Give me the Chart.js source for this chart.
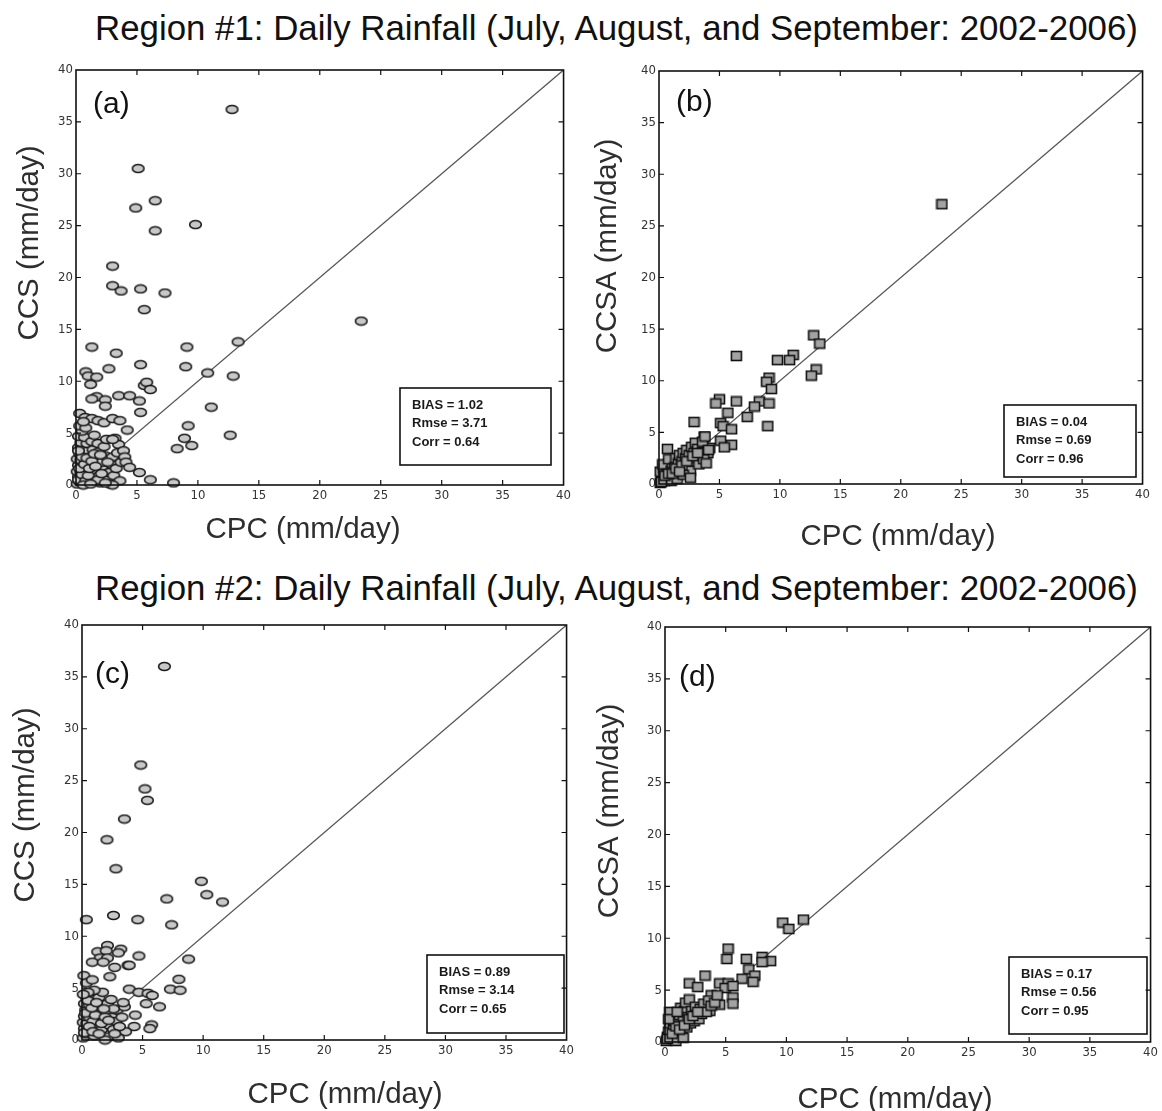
<!DOCTYPE html>
<html><head><meta charset="utf-8">
<script src="https://cdn.jsdelivr.net/npm/chart.js@4.4.0/dist/chart.umd.min.js"></script>
<style>
body{margin:0;background:#fff;width:1162px;height:1111px;position:relative;overflow:hidden;}
.title{position:absolute;white-space:nowrap;font-family:"Liberation Sans",Arial,sans-serif;color:#111;line-height:1.2;}
canvas{position:absolute;}
</style></head><body>
<div id="t0" class="title"></div>
<div id="t1" class="title"></div>
<script>
// ---------------- DATA ----------------
const regionTitles = [
  "Region #1: Daily Rainfall (July, August, and September: 2002-2006)",
  "Region #2: Daily Rainfall (July, August, and September: 2002-2006)"
];
const tickValues = [0, 5, 10, 15, 20, 25, 30, 35, 40];
const panelLabels = ["(a)", "(b)", "(c)", "(d)"];
const xAxisTitle = "CPC (mm/day)";
const yAxisTitles = ["CCS (mm/day)", "CCSA (mm/day)", "CCS (mm/day)", "CCSA (mm/day)"];
const statsA = ["BIAS = 1.02", "Rmse = 3.71", "Corr = 0.64"];
const statsB = ["BIAS = 0.04", "Rmse = 0.69", "Corr = 0.96"];
const statsC = ["BIAS = 0.89", "Rmse = 3.14", "Corr = 0.65"];
const statsD = ["BIAS = 0.17", "Rmse = 0.56", "Corr = 0.95"];
const diagX = [0, 40];
const diagY = [0, 40];

// (a) Region 1: CPC vs CCS
const cpcA = [12.8,5.1,6.5,4.9,9.8,6.5,3.0,3.0,5.3,3.7,7.3,5.6,23.4,13.3,9.1,1.3,3.3,5.3,9.0,2.7,10.8,0.8,1.0,1.7,12.9,1.2,5.6,5.8,6.1,3.5,4.4,1.7,1.3,2.4,2.4,5.2,11.1,5.3,0.3,0.75,1.3,1.8,2.3,3.0,3.6,9.2,12.65,4.2,8.9,8.3,9.5,3.2,3.5,5.2,6.1,8.0,
  0.1,0.3,0.2,0.5,0.1,0.4,0.7,0.2,0.6,0.9,0.1,0.4,0.8,0.3,0.7,0.2,0.6,1.0,0.4,0.9,0.2,0.7,0.5,0.3,0.8,0.6,1.1,1.3,1.0,1.2,1.5,1.4,1.6,1.2,1.7,1.4,1.9,1.3,1.8,1.5,2.0,1.9,2.2,2.1,2.4,2.3,2.6,2.7,2.9,2.8,3.1,3.0,3.3,3.4,3.6,3.7,3.9,4.0,4.1,4.4,3.0,2.5,3.0,
  0.2,0.5,0.8,1.0,0.3,0.7,1.1,0.5,0.9,1.3,0.2,1.6,1.8,2.1,2.4,1.5,2.0,0.6,1.2,2.6];
const ccsA = [36.2,30.5,27.4,26.7,25.1,24.5,21.1,19.2,18.9,18.7,18.5,16.9,15.8,13.8,13.3,13.3,12.7,11.6,11.4,11.2,10.8,10.9,10.5,10.4,10.5,9.7,9.6,9.9,9.2,8.6,8.6,8.5,8.3,8.2,7.6,8.1,7.5,7.0,6.9,6.5,6.4,6.2,6.0,6.4,6.2,5.7,4.8,5.3,4.5,3.5,3.8,4.5,3.9,1.2,0.5,0.2,
  0.1,0.3,0.8,0.6,1.3,1.2,1.0,1.9,1.7,1.5,2.5,2.4,2.2,3.0,2.9,3.6,3.5,3.3,4.1,4.0,4.7,4.6,5.2,5.7,5.5,6.1,0.3,0.8,1.9,1.3,0.5,2.0,1.2,2.7,2.5,3.4,3.2,4.2,4.0,4.8,0.2,0.9,1.5,2.2,2.8,3.7,0.6,1.2,2.0,0.1,0.9,2.7,1.6,3.1,0.4,2.2,3.3,2.7,2.2,1.7,0.0,4.4,4.4,
  0.5,1.0,0.4,0.9,1.6,2.0,1.6,2.7,2.6,2.3,3.3,1.8,0.5,1.1,0.2,3.0,2.9,0.0,0.1,2.2];

// (b) Region 1: CPC vs CCSA
const cpcB = [23.4,12.8,13.3,6.4,11.1,10.8,9.8,13.0,12.6,9.1,8.9,9.3,5.0,4.7,6.4,8.3,7.9,9.1,5.7,7.3,2.9,5.1,5.3,9.0,6.0,3.75,5.1,6.0,5.4,0.7,4.2,4.05,
  0.1,0.2,0.3,0.1,0.4,0.5,0.6,0.7,0.3,0.9,1.0,1.1,0.8,1.2,1.3,1.4,1.5,1.6,1.7,1.8,1.9,2.0,2.1,2.2,2.3,2.4,2.5,2.6,2.7,2.8,2.9,3.0,3.1,3.2,3.3,3.4,3.6,3.6,3.7,3.8,3.9,4.1,1.0,1.5,2.0,2.6,
  0.2,0.5,0.8,1.1,1.4,1.9,2.3,2.8,3.2,1.7];
const ccsaB = [27.1,14.4,13.6,12.4,12.5,12.0,12.0,11.1,10.5,10.3,9.9,9.2,8.2,7.8,8.0,8.0,7.5,7.8,6.9,6.5,6.0,5.9,5.6,5.6,5.3,4.6,4.2,3.8,3.55,3.4,3.5,3.0,
  0.1,0.5,0.9,1.2,1.5,0.3,1.0,1.8,1.9,0.6,1.3,2.0,2.4,0.8,1.6,2.5,1.1,2.0,2.8,1.4,2.2,3.0,1.7,2.5,3.3,1.9,2.8,1.3,3.6,2.2,3.0,4.0,2.5,3.4,1.9,2.9,4.1,3.1,2.4,4.6,2.0,3.3,0.3,0.5,0.9,0.6,
  0.2,0.8,1.0,1.0,1.5,1.8,2.2,2.7,3.0,1.2];

// (c) Region 2: CPC vs CCS
const cpcC = [6.8,4.85,5.2,5.4,3.5,2.06,2.8,9.85,10.3,7.0,11.6,2.6,0.36,4.6,7.4,2.1,1.3,2.0,3.2,3.0,4.7,1.5,2.1,0.85,1.75,3.8,3.9,2.7,8.8,2.3,0.15,0.36,0.85,8.0,7.3,8.1,3.9,4.7,5.45,5.8,5.3,6.4,4.4,5.75,5.6,4.3,3.6,
  0.1,0.3,0.2,0.5,0.1,0.4,0.2,0.6,0.3,0.7,0.2,0.6,0.4,0.8,1.0,1.1,1.3,0.9,1.2,1.5,1.4,1.7,1.6,1.8,2.0,2.1,2.2,2.3,2.5,2.4,2.6,2.8,2.9,3.0,3.1,3.3,3.5,1.9,2.7,1.0,0.5,3.4,
  0.2,0.6,0.9,0.3,1.1,0.8,1.4,1.6,1.9,0.5,1.2,2.2,2.6,0.1,1.8];
const ccsC = [36.0,26.5,24.2,23.1,21.3,19.3,16.5,15.3,14.0,13.6,13.3,12.0,11.6,11.6,11.1,9.1,8.5,8.6,8.75,8.4,8.1,7.9,7.9,7.5,7.5,7.2,7.2,7.0,7.8,6.1,6.2,5.5,5.8,5.85,4.9,4.8,4.9,4.6,4.5,4.3,3.5,3.2,2.4,1.45,1.1,1.3,0.8,
  0.2,0.6,1.1,0.9,1.7,1.6,2.3,2.2,2.9,2.7,3.5,3.4,4.0,3.9,0.4,1.2,2.0,1.8,2.8,3.2,4.1,4.6,1.0,1.8,2.6,3.5,0.3,1.4,2.2,3.9,1.0,1.8,2.9,0.2,1.3,2.2,3.2,0.0,0.6,4.8,4.6,3.6,
  0.7,1.3,0.8,2.6,2.4,3.1,0.6,1.6,2.2,3.8,3.6,1.9,3.0,4.4,3.0];

// (d) Region 2: CPC vs CCSA
const cpcD = [11.4,9.7,10.2,5.2,5.1,6.7,8.0,8.7,8.0,6.9,7.4,7.25,6.35,3.3,2.0,2.7,4.5,5.2,4.95,5.6,5.6,5.6,3.8,4.5,3.7,
  0.1,0.2,0.3,0.4,0.5,0.4,0.6,0.7,0.8,1.0,1.1,1.2,1.3,1.4,1.5,1.6,1.7,1.8,1.9,2.0,2.1,2.2,2.4,2.5,2.6,2.8,2.9,3.0,3.2,3.4,3.6,3.8,4.1,4.3,0.9,1.5,
  0.2,0.6,0.9,1.2,1.6,2.0,2.3,2.7,0.3,1.0];
const ccsaD = [11.8,11.5,10.9,9.0,8.0,8.0,8.2,7.8,7.7,7.0,6.4,5.8,6.1,6.4,5.65,5.3,5.65,5.65,5.2,5.4,4.3,3.7,4.5,3.6,3.0,
  0.1,0.5,1.0,1.8,2.4,2.9,0.3,1.3,2.0,0.6,1.5,2.6,3.3,1.0,2.0,3.0,3.8,1.4,2.4,4.1,1.8,3.0,2.0,3.4,2.6,2.2,3.2,2.7,3.7,2.9,4.0,3.5,3.8,4.5,0.1,0.4,
  0.3,0.8,1.5,1.2,1.6,2.2,2.5,2.9,2.2,2.9];

// ---------------- LAYOUT ----------------
const panels = [
  {xs: cpcA, ys: ccsA, marker: 'ellipse', stats: statsA, rect: [76, 70, 569, 485],
   xt: [303, 530], yt: [30, 243], lab: [93, 105], box: [400, 388, 551, 465]},
  {xs: cpcB, ys: ccsaB, marker: 'square', stats: statsB, rect: [659, 71, 1148, 484],
   xt: [898, 537], yt: [608, 246], lab: [676, 103], box: [1004, 405, 1136, 477]},
  {xs: cpcC, ys: ccsC, marker: 'ellipse', stats: statsC, rect: [82, 625, 572, 1040],
   xt: [345, 1095], yt: [26, 805], lab: [95, 675], box: [427, 955, 564, 1033]},
  {xs: cpcD, ys: ccsaD, marker: 'square', stats: statsD, rect: [665, 627, 1156, 1042],
   xt: [895, 1100], yt: [610, 811], lab: [679, 678], box: [1009, 957, 1147, 1034]}
];
const titleLayout = [{left: 95, cy: 28, width: 1045}, {left: 95, cy: 588, width: 1045}];

// titles
const mc = document.createElement('canvas').getContext('2d');
mc.font = '100px "Liberation Sans"';
regionTitles.forEach((t, i) => {
  const el = document.getElementById('t' + i);
  el.textContent = t;
  const w = mc.measureText(t).width;
  const fs = 100 * titleLayout[i].width / w;
  el.style.fontSize = fs + 'px';
  el.style.left = titleLayout[i].left + 'px';
  el.style.top = (titleLayout[i].cy - fs * 0.6) + 'px';
});

// marker images
function makeEllipse() {
  const c = document.createElement('canvas'); c.width = 15; c.height = 11;
  const g = c.getContext('2d');
  g.beginPath(); g.ellipse(7.5, 5.5, 5.8, 4.0, 0, 0, Math.PI * 2);
  g.fillStyle = '#c8c8c8'; g.fill();
  g.lineWidth = 1.6; g.strokeStyle = '#1a1a1a'; g.stroke();
  return c;
}
function makeSquare() {
  const c = document.createElement('canvas'); c.width = 13; c.height = 12;
  const g = c.getContext('2d');
  g.fillStyle = '#a3a3a3'; g.fillRect(1.5, 1.5, 10, 9);
  g.lineWidth = 1.6; g.strokeStyle = '#111'; g.strokeRect(1.5, 1.5, 10, 9);
  return c;
}
const markers = {ellipse: makeEllipse(), square: makeSquare()};

const tickFont = {family: "'Liberation Sans Narrow','DejaVu Sans Condensed',sans-serif", size: 13};
const AX_L = 75, AX_B = 70, PAD_T = 12, PAD_R = 5;

panels.forEach((p, idx) => {
  const [L, T, R, B] = p.rect;
  const cv = document.createElement('canvas');
  const cl = L - AX_L, ct = T - PAD_T;
  const cw = (R - L) + AX_L + PAD_R, ch = (B - T) + PAD_T + AX_B;
  cv.width = cw; cv.height = ch;
  cv.style.left = cl + 'px'; cv.style.top = ct + 'px';
  cv.style.width = cw + 'px'; cv.style.height = ch + 'px';
  document.body.appendChild(cv);

  const pts = p.xs.map((x, i) => ({x: x, y: p.ys[i]}));
  const diag = diagX.map((x, i) => ({x: x, y: diagY[i]}));

  const deco = {
    id: 'deco' + idx,
    afterDraw(chart) {
      const ctx = chart.ctx, ca = chart.chartArea;
      const xsS = chart.scales.x, ysS = chart.scales.y;
      ctx.save();
      // stats box
      const [bl, bt, br, bb] = p.box.map((v, k) => v - (k % 2 === 0 ? cl : ct));
      ctx.fillStyle = '#fff';
      ctx.fillRect(bl, bt, br - bl, bb - bt);
      ctx.strokeStyle = '#111'; ctx.lineWidth = 1.6;
      ctx.strokeRect(bl, bt, br - bl, bb - bt);
      ctx.fillStyle = '#1a1a1a';
      ctx.font = 'bold 13px "Liberation Sans", Arial, sans-serif';
      ctx.textAlign = 'left'; ctx.textBaseline = 'middle';
      const lineOff = [17, 35, 54];
      p.stats.forEach((s, k) => ctx.fillText(s, bl + 12, bt + lineOff[k]));
      // frame
      ctx.strokeStyle = '#111'; ctx.lineWidth = 1.6;
      ctx.strokeRect(ca.left, ca.top, ca.right - ca.left, ca.bottom - ca.top);
      // inward ticks on all sides
      ctx.lineWidth = 1.2; ctx.beginPath();
      tickValues.forEach(v => {
        if (v <= tickValues[0] || v >= tickValues[tickValues.length - 1]) return;
        const px = xsS.getPixelForValue(v), py = ysS.getPixelForValue(v);
        ctx.moveTo(px, ca.bottom); ctx.lineTo(px, ca.bottom - 5);
        ctx.moveTo(px, ca.top); ctx.lineTo(px, ca.top + 5);
        ctx.moveTo(ca.left, py); ctx.lineTo(ca.left + 5, py);
        ctx.moveTo(ca.right, py); ctx.lineTo(ca.right - 5, py);
      });
      ctx.stroke();
      // panel label
      ctx.fillStyle = '#111';
      ctx.font = '30px "Liberation Sans", Arial, sans-serif';
      ctx.textAlign = 'left'; ctx.textBaseline = 'middle';
      ctx.fillText(panelLabels[idx], p.lab[0] - cl, p.lab[1] - ct);
      // axis titles
      ctx.fillStyle = '#2e2e2e';
      ctx.font = '29.5px "Liberation Sans", Arial, sans-serif';
      ctx.textAlign = 'center';
      ctx.fillText(xAxisTitle, p.xt[0] - cl, p.xt[1] - ct);
      ctx.translate(p.yt[0] - cl, p.yt[1] - ct);
      ctx.rotate(-Math.PI / 2);
      ctx.fillText(yAxisTitles[idx], 0, 0);
      ctx.restore();
    }
  };

  new Chart(cv.getContext('2d'), {
    type: 'scatter',
    data: {datasets: [
      {data: pts, pointStyle: markers[p.marker], pointRadius: 6, clip: false, order: 0},
      {data: diag, showLine: true, borderColor: '#555', borderWidth: 1.3, pointRadius: 0, order: 1}
    ]},
    options: {
      responsive: false, animation: false, devicePixelRatio: 1,
      layout: {padding: {left: 0, right: PAD_R, top: PAD_T, bottom: 0}},
      plugins: {legend: {display: false}, tooltip: {enabled: false}},
      events: [],
      scales: {
        x: {type: 'linear', min: tickValues[0], max: tickValues[tickValues.length - 1],
            afterFit: s => { s.height = AX_B; },
            afterBuildTicks: s => { s.ticks = tickValues.map(v => ({value: v})); },
            grid: {display: false, drawTicks: false}, border: {display: false},
            ticks: {padding: 3, font: tickFont, color: '#333', maxRotation: 0, autoSkip: false}},
        y: {type: 'linear', min: tickValues[0], max: tickValues[tickValues.length - 1],
            afterFit: s => { s.width = AX_L; },
            afterBuildTicks: s => { s.ticks = tickValues.map(v => ({value: v})); },
            grid: {display: false, drawTicks: false}, border: {display: false},
            ticks: {padding: 3, font: tickFont, color: '#333', autoSkip: false}}
      }
    },
    plugins: [deco]
  });
});
</script>
</body></html>
